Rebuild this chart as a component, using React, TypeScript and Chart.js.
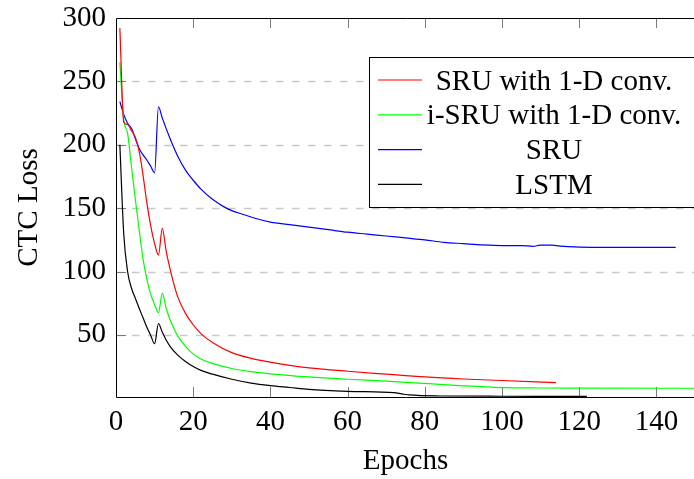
import React, { useEffect, useRef } from 'react';
import { Chart, registerables } from 'chart.js';

Chart.register(...registerables);

// ---- Data ----
const seriesNames = ['SRU with 1-D conv.', 'i-SRU with 1-D conv.', 'SRU', 'LSTM'];
const seriesColors = ['#ff0000', '#00ff00', '#0000ff', '#000000'];

const redEpochs = [1, 2, 3, 4, 5, 6, 7, 8, 9, 10, 11, 12, 13, 14, 15, 16, 18, 20, 22, 25, 30, 35, 40, 45, 50, 60, 70, 80, 90, 100, 114];
const redLoss = [292, 218, 216, 211, 206, 195, 176, 154, 136, 122, 113, 134, 116, 102, 90, 80, 67, 58, 51, 44, 36, 31.5, 28.5, 26, 24, 21.3, 19, 16.8, 15.2, 14, 12.3];

const greenEpochs = [1, 2, 3, 4, 5, 6, 7, 8, 9, 10, 11, 12, 13, 14, 15, 16, 18, 20, 22, 25, 30, 35, 40, 50, 60, 70, 80, 90, 100, 110, 120, 150];
const greenLoss = [265, 220, 209, 183, 157, 133, 110, 94, 82, 74, 67.5, 83, 71, 62, 55, 49, 41, 35, 31, 27.5, 23.5, 21, 19.3, 16.8, 15, 13.5, 11.7, 9.8, 8.4, 8.1, 8, 7.9];

const blueEpochs = [1, 2, 3, 4, 5, 6, 7, 8, 9, 10, 11, 12, 14, 16, 18, 20, 22, 25, 28, 30, 33, 36, 40, 45, 50, 55, 60, 65, 70, 75, 80, 85, 90, 95, 100, 105, 108, 110, 113, 115, 127, 145];
const blueLoss = [234, 224, 217, 213, 205, 197, 192, 188, 183, 178, 230, 221, 205, 191, 180, 172, 165, 157, 151, 148, 145, 142, 139, 137, 135, 133, 131, 129.5, 128, 126.5, 125, 123, 122, 121, 120.5, 120.5, 119.8, 120.8, 120.8, 120, 119, 119];

const blackEpochs = [1, 2, 3, 4, 5, 6, 7, 8, 9, 10, 11, 12, 13, 14, 16, 18, 20, 22, 25, 30, 35, 40, 45, 50, 60, 72, 74, 76, 84, 100, 122];
const blackLoss = [200, 130, 100, 87, 79, 71, 63.5, 56, 49.5, 43, 59, 52, 46, 41, 34, 29, 25, 22, 19, 15, 12, 10, 8.5, 7, 5.5, 4.4, 3.5, 2.6, 1.8, 1.6, 1.5];

const xTickValues = [0, 20, 40, 60, 80, 100, 120, 140];
const yTickValues = [50, 100, 150, 200, 250, 300];
const yGridValues = [50, 100, 150, 200, 250];

const seriesEpochs = [redEpochs, greenEpochs, blueEpochs, blackEpochs];
const seriesLoss = [redLoss, greenLoss, blueLoss, blackLoss];

const FONT_FAMILY = "'Liberation Serif', 'Times New Roman', Times, serif";
const FONT_SIZE = 29;

const framePlugin = {
  id: 'pgfFrame',
  beforeDatasetsDraw(chart: any) {
    const { ctx, chartArea } = chart;
    const { left, right, top, bottom } = chartArea;
    const yScale = chart.scales.y;
    const xScale = chart.scales.x;
    ctx.save();
    // dashed grid
    ctx.strokeStyle = '#c8c8c8';
    ctx.lineWidth = 1.3;
    ctx.setLineDash([7.5, 8.5]);
    for (const v of yGridValues) {
      const y = Math.round(yScale.getPixelForValue(v)) + 0.5;
      ctx.beginPath();
      ctx.moveTo(left, y);
      ctx.lineTo(right, y);
      ctx.stroke();
    }
    ctx.setLineDash([]);
    // tick marks (inside)
    ctx.strokeStyle = '#7a7a7a';
    ctx.lineWidth = 1;
    for (const v of xTickValues) {
      if (v === 0) continue;
      const x = Math.round(xScale.getPixelForValue(v)) + 0.5;
      ctx.beginPath();
      ctx.moveTo(x, bottom);
      ctx.lineTo(x, bottom - 10);
      ctx.moveTo(x, top);
      ctx.lineTo(x, top + 10);
      ctx.stroke();
    }
    for (const v of yGridValues) {
      const y = Math.round(yScale.getPixelForValue(v)) + 0.5;
      ctx.beginPath();
      ctx.moveTo(left, y);
      ctx.lineTo(left + 10, y);
      ctx.stroke();
    }
    ctx.restore();
  },
  afterDatasetsDraw(chart: any) {
    const { ctx, chartArea } = chart;
    const { left, right, top, bottom } = chartArea;
    ctx.save();
    ctx.strokeStyle = '#000';
    ctx.lineWidth = 1;
    ctx.beginPath();
    ctx.moveTo(right + 2, top + 0.5);
    ctx.lineTo(left + 0.5, top + 0.5);
    ctx.lineTo(left + 0.5, bottom + 0.5);
    ctx.lineTo(right + 2, bottom + 0.5);
    ctx.stroke();

    // legend
    const boxLeft = 369.5;
    const boxTop = 57.5;
    const boxW = 340;
    const boxH = 150;
    ctx.fillStyle = '#fff';
    ctx.fillRect(boxLeft, boxTop, boxW, boxH);
    ctx.strokeRect(boxLeft, boxTop, boxW, boxH);
    ctx.font = `${FONT_SIZE}px ${FONT_FAMILY}`;
    ctx.textAlign = 'center';
    ctx.textBaseline = 'alphabetic';
    seriesNames.forEach((name, i) => {
      const y = boxTop + 22.5 + i * 34.8;
      ctx.strokeStyle = seriesColors[i];
      ctx.lineWidth = 1.2;
      ctx.beginPath();
      ctx.moveTo(378, y);
      ctx.lineTo(422, y);
      ctx.stroke();
      ctx.fillStyle = '#000';
      ctx.fillText(name, 554, y + 9.5);
    });
    ctx.restore();
  },
};

export default function App() {
  const canvasRef = useRef<HTMLCanvasElement | null>(null);

  useEffect(() => {
    const canvas = canvasRef.current;
    if (!canvas) return;
    const datasets = seriesNames.map((name, i) => ({
      label: name,
      data: seriesEpochs[i].map((e, j) => ({ x: e, y: seriesLoss[i][j] })),
      borderColor: seriesColors[i],
      backgroundColor: seriesColors[i],
      borderWidth: 1.2,
      pointRadius: 0,
      fill: false,
      cubicInterpolationMode: 'monotone' as const,
    }));
    const font = { family: FONT_FAMILY, size: FONT_SIZE };
    const chart = new Chart(canvas, {
      type: 'line',
      data: { datasets },
      options: {
        animation: false,
        responsive: false,
        devicePixelRatio: 1,
        layout: { padding: { left: 0, right: 5, top: 18, bottom: 0 } },
        plugins: {
          legend: { display: false },
          tooltip: { enabled: false },
        },
        scales: {
          x: {
            type: 'linear',
            min: 0,
            max: 150,
            grid: { display: false, drawTicks: false },
            border: { display: false },
            ticks: { font, color: '#000', padding: 8, maxRotation: 0 },
            afterBuildTicks: (s: any) => {
              s.ticks = xTickValues.map((v) => ({ value: v }));
            },
            afterFit: (s: any) => {
              s.height = 82;
              s.paddingLeft = 0;
              s.paddingRight = 0;
            },
            title: { display: true, text: 'Epochs', font, color: '#000', padding: { top: 10, bottom: 0 } },
          },
          y: {
            type: 'linear',
            min: 1,
            max: 300,
            grid: { display: false, drawTicks: false },
            border: { display: false },
            ticks: { font, color: '#000', padding: 10 },
            afterBuildTicks: (s: any) => {
              s.ticks = yTickValues.map((v) => ({ value: v }));
            },
            afterFit: (s: any) => {
              s.width = 116;
              s.paddingTop = 0;
              s.paddingBottom = 0;
            },
            title: { display: true, text: 'CTC Loss', font, color: '#000', padding: { top: 12, bottom: 0 } },
          },
        },
      },
      plugins: [framePlugin],
    });
    return () => chart.destroy();
  }, []);

  return (
    <div style={{ position: 'fixed', left: 0, top: 0, width: 694, height: 479, overflow: 'hidden', background: '#fff' }}>
      <canvas ref={canvasRef} width={700} height={479} style={{ display: 'block' }} />
    </div>
  );
}
